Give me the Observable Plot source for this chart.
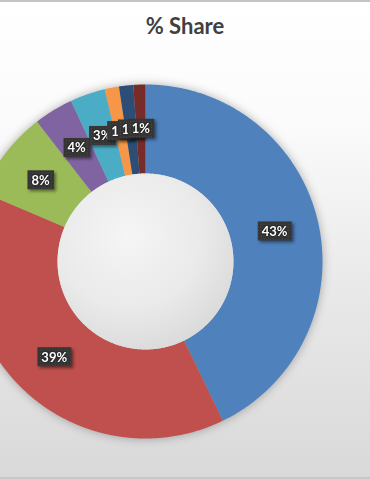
<!DOCTYPE html>
<html><head><meta charset="utf-8">
<script src="https://cdn.jsdelivr.net/npm/d3@7"></script>
<script src="https://cdn.jsdelivr.net/npm/@observablehq/plot@0.6"></script>
<style>
html,body{margin:0;padding:0;background:#fff;}
#chart{position:relative;width:370px;height:479px;overflow:hidden;
  background:linear-gradient(#ffffff 0%, #fbfbfb 25%, #e9e9e9 60%, #d9d9d9 100%);
  box-sizing:border-box;border-top:2px solid #c4c4c4;border-bottom:2px solid #c8c8c8;}
#title{position:absolute;left:0;top:10px;width:370px;text-align:center;
  font:bold 22px Lato, "Open Sans", sans-serif;color:#404040;}
#chart svg.plot{position:absolute;left:0;top:-2px;overflow:visible;}
</style></head>
<body>
<svg width="0" height="0" style="position:absolute">
  <defs>
    <radialGradient id="holeGrad" cx="40%" cy="35%" r="70%">
      <stop offset="0%" stop-color="#f5f5f5"/>
      <stop offset="60%" stop-color="#eaeaea"/>
      <stop offset="100%" stop-color="#d9d9d9"/>
    </radialGradient>
    <pattern id="dots" width="3" height="3" patternUnits="userSpaceOnUse">
      <rect width="3" height="3" fill="#353535"/>
      <rect x="1" y="1" width="1" height="1" fill="#4d4d4d"/>
    </pattern>
  </defs>
</svg>
<div id="chart"><div id="title">% Share</div></div>
<script>
// ---- data ----
const categories = ["Cat 1", "Cat 2", "Cat 3", "Cat 4", "Cat 5", "Cat 6", "Cat 7", "Cat 8"];
const shares = [42.8, 38.6, 8.1, 3.6, 3.2, 1.3, 1.3, 1.1];
const labels = ["43%", "39%", "8%", "4%", "3%", "1%", "1%", "1%"];
const colors = ["#4F81BD", "#C0504D", "#9BBB59", "#8064A2", "#4BACC6", "#F79646", "#2C4D75", "#772C2A"];

const outerR = 1, innerR = 0.497, midR = (outerR + innerR) / 2;
const pie = d3.pie().sort(null).value(d => d)(shares);

function arcPts(r, a0, a1) {
  const n = Math.max(2, Math.ceil(Math.abs(a1 - a0) / (Math.PI / 360)));
  return d3.range(n + 1).map(i => {
    const a = a0 + (a1 - a0) * i / n;
    return [r * Math.sin(a), -r * Math.cos(a)];
  });
}
const slices = pie.map((p, i) => ({
  type: "Feature",
  properties: {category: categories[i]},
  geometry: {type: "Polygon", coordinates: [[...arcPts(outerR, p.startAngle, p.endAngle), ...arcPts(innerR, p.endAngle, p.startAngle), [outerR * Math.sin(p.startAngle), -outerR * Math.cos(p.startAngle)]]]}
}));
const circle = r => ({type: "Polygon", coordinates: [arcPts(r, 0, 2 * Math.PI)]});
const labelData = pie.map((p, i) => {
  const a = (p.startAngle + p.endAngle) / 2;
  return {x: midR * Math.sin(a), y: -midR * Math.cos(a), label: labels[i]};
});

const plot = Plot.plot({
  width: 370, height: 479,
  marginLeft: -32, marginRight: 48, marginTop: 82, marginBottom: 43,
  projection: {type: "identity", domain: circle(outerR)},
  color: {domain: categories, range: colors},
  marks: [
    Plot.geo(slices, {fill: d => d.properties.category}),
    Plot.geo([circle(innerR)], {fill: "url(#holeGrad)"}),
    Plot.text(labelData, {x: "x", y: "y", text: "label", fill: "white", fontWeight: "bold", fontSize: 13, fontFamily: "Lato, 'Open Sans', sans-serif"})
  ]
});
plot.style.background = "transparent";
document.getElementById("chart").appendChild(plot);

const ns = "http://www.w3.org/2000/svg";
const geos = plot.querySelectorAll('g[aria-label="geo"]');
if (geos[0]) geos[0].style.filter = "drop-shadow(0 0 5px rgba(0,0,0,0.3))";
plot.querySelectorAll('g[aria-label="text"] text').forEach(t => {
  t.style.filter = "drop-shadow(0 0 1px rgba(0,0,0,0.8))";
  const b = t.getBBox();
  const w = b.width + 8, h = 19;
  const x = b.x + b.width / 2 - w / 2, y = b.y + b.height / 2 - h / 2;
  const tr = t.getAttribute("transform");
  const mk = (dx, dy, fill, style) => {
    const r = document.createElementNS(ns, "rect");
    r.setAttribute("x", x + dx); r.setAttribute("y", y + dy);
    r.setAttribute("width", w); r.setAttribute("height", h);
    r.setAttribute("fill", fill);
    if (style) r.setAttribute("style", style);
    if (tr) r.setAttribute("transform", tr);
    t.parentNode.insertBefore(r, t);
  };
  mk(2, 2, "rgba(0,0,0,0.45)", "filter: blur(1.5px)");
  mk(0, 0, "url(#dots)");
});
</script>
</body></html>
